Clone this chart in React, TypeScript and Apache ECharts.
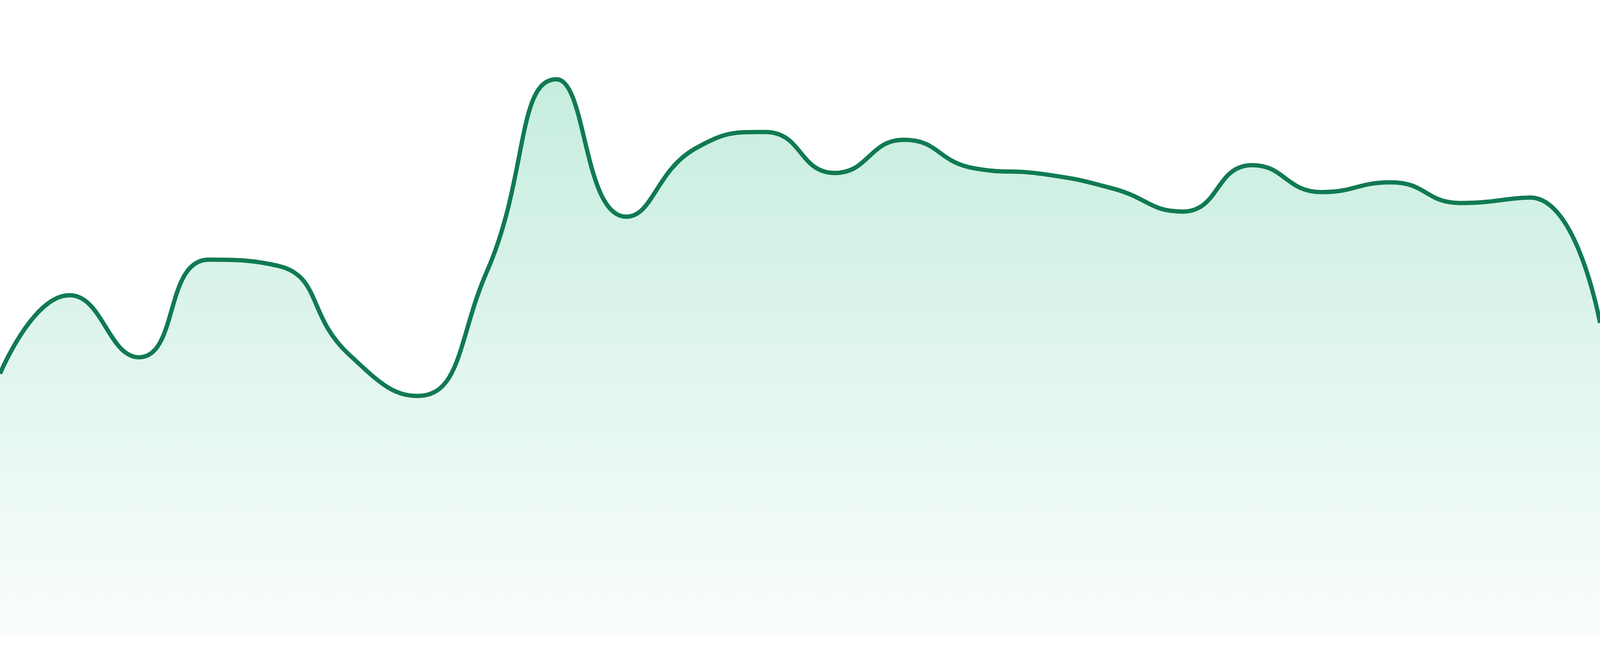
import { useEffect, useRef } from 'react';
import * as echarts from 'echarts';

// 24 hourly samples
const hours = [
  '00:00', '01:00', '02:00', '03:00', '04:00', '05:00', '06:00', '07:00',
  '08:00', '09:00', '10:00', '11:00', '12:00', '13:00', '14:00', '15:00',
  '16:00', '17:00', '18:00', '19:00', '20:00', '21:00', '22:00', '23:00',
];

const values = [
  67.5, 87.6, 71.7, 96.7, 95.1, 72.7, 61.8, 93.7,
  142.9, 107.7, 125.2, 129.4, 118.9, 127.4, 120.1, 118.6,
  114.9, 109.0, 120.9, 114.0, 116.5, 111.2, 112.6, 80.5,
];

const yMin = 0;
const yMax = 160;

export default function App() {
  const chartRef = useRef<HTMLDivElement>(null);

  useEffect(() => {
    if (!chartRef.current) return;
    const chart = echarts.init(chartRef.current, null, { renderer: 'svg' });

    // the reference was drawn 1680 px high, scale the stroke with the box
    const k = chartRef.current.clientHeight / 1680;

    chart.setOption({
      animation: false,
      grid: {
        left: 0,
        right: 0,
        top: '1.9%',
        bottom: '2.86%',
      },
      xAxis: {
        type: 'category',
        boundaryGap: false,
        data: hours,
        show: false,
      },
      yAxis: {
        type: 'value',
        min: yMin,
        max: yMax,
        show: false,
      },
      series: [
        {
          type: 'line',
          data: values,
          smooth: true,
          symbol: 'none',
          lineStyle: {
            color: '#117a52',
            width: 11 * k,
          },
          areaStyle: {
            color: new echarts.graphic.LinearGradient(0, 0, 0, 1, [
              { offset: 0, color: 'rgba(16, 180, 118, 0.34)' },
              { offset: 1, color: 'rgba(16, 180, 118, 0.03)' },
            ]),
          },
        },
      ],
    });

    return () => {
      chart.dispose();
    };
  }, []);

  return (
    <div
      ref={chartRef}
      style={{
        position: 'fixed',
        left: 0,
        top: 0,
        width: '100vw',
        height: '100vh',
        background: '#ffffff',
      }}
    />
  );
}
